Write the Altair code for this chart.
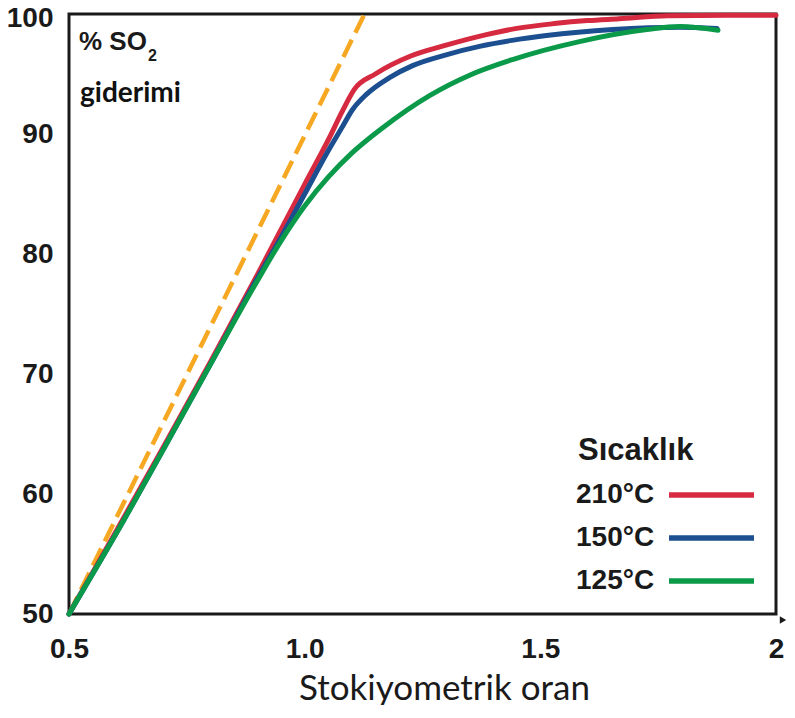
import altair as alt
import pandas as pd

# ---- data ----
red_x = [0.5, 0.6, 0.7, 0.8, 0.9, 1.0, 1.05, 1.08, 1.105, 1.15, 1.225, 1.3, 1.388, 1.45, 1.53, 1.6, 1.667, 1.77, 1.9, 2.0]
red_y = [50, 56.9, 63.9, 71.0, 78.3, 85.8, 89.5, 91.9, 93.7, 95.0, 96.5, 97.4, 98.3, 98.8, 99.2, 99.45, 99.6, 99.85, 99.9, 99.9]

blue_x = [0.5, 0.6, 0.7, 0.8, 0.9, 0.95, 1.0, 1.05, 1.08, 1.101, 1.131, 1.18, 1.229, 1.3, 1.371, 1.44, 1.513, 1.654, 1.796, 1.875]
blue_y = [50, 56.7, 63.7, 70.8, 78.0, 81.4, 85.0, 88.6, 90.6, 92.0, 93.3, 94.7, 95.7, 96.6, 97.3, 97.8, 98.2, 98.7, 98.9, 98.8]

green_x = [0.5, 0.6, 0.7, 0.8, 0.9, 0.95, 1.0, 1.05, 1.1, 1.165, 1.265, 1.35, 1.441, 1.583, 1.726, 1.796, 1.877]
green_y = [50, 56.7, 63.7, 70.8, 77.8, 81.1, 84.0, 86.4, 88.4, 90.5, 93.2, 94.9, 96.2, 97.7, 98.7, 98.95, 98.65]

stoich_x = [0.5, 1.127]
stoich_y = [50, 100]

series_names = ["210°C", "150°C", "125°C"]
series_colors = ["#d62a40", "#1c4f8f", "#0b9a4a"]
dash_color = "#f7a823"

x_ticks = [0.5, 1.0, 1.5, 2.0]
y_ticks = [50, 60, 70, 80, 90, 100]

# ---- tables ----
rows = []
for name, xs, ys in zip(series_names, [red_x, blue_x, green_x], [red_y, blue_y, green_y]):
    for i, (a, b) in enumerate(zip(xs, ys)):
        rows.append({"series": name, "x": a, "y": b, "i": i})
df = pd.DataFrame(rows)
df_dash = pd.DataFrame({"x": stoich_x, "y": stoich_y})

W, H = 707, 600
TICK_FONT = "Liberation Sans"
CAL = "Lato"

xscale = alt.Scale(domain=[0.5, 2.0], nice=False, zero=False)
yscale = alt.Scale(domain=[50, 100], nice=False, zero=False)

xaxis = alt.Axis(
    values=x_ticks, labelExpr="datum.value == 2 ? '2' : format(datum.value, '.1f')",
    grid=False, ticks=False, tickSize=0, domain=False,
    labelFont=TICK_FONT, labelFontWeight="bold", labelFontSize=28, labelColor="#1a1a1a",
    labelBaseline="alphabetic", labelPadding=43, labelFlush=False,
    title="Stokiyometrik oran", titleFont=CAL, titleFontWeight="normal", titleFontSize=35,
    titleColor="#1a1a1a", titleBaseline="alphabetic", titleX=375, titleY=85, titleAlign="center",
)
yaxis = alt.Axis(
    values=y_ticks, grid=False, ticks=False, tickSize=0, domain=False,
    labelFont=TICK_FONT, labelFontWeight="bold", labelFontSize=28, labelColor="#1a1a1a",
    labelBaseline="middle", labelPadding=16, labelFlush=False, title=None,
    labelOffset={"condition": {"test": "datum.value == 100", "value": 4}, "value": 0},
)

color_scale = alt.Scale(domain=series_names, range=series_colors)

curves = alt.Chart(df).mark_line(strokeWidth=5, interpolate="monotone", strokeCap="round").encode(
    x=alt.X("x:Q", scale=xscale, axis=xaxis),
    y=alt.Y("y:Q", scale=yscale, axis=yaxis),
    color=alt.Color("series:N", scale=color_scale, legend=None),
    order="i:Q",
    detail="series:N",
)

dashed = alt.Chart(df_dash).mark_line(strokeWidth=4.5, color=dash_color, strokeDash=[19, 8]).encode(
    x=alt.X("x:Q", scale=xscale),
    y=alt.Y("y:Q", scale=yscale),
)

# axis arrow on the right of the x axis
arrow = alt.Chart(pd.DataFrame({"a": [0]})).mark_point(
    shape="triangle-right", filled=True, color="#1a1a1a", size=55, opacity=1
).encode(x=alt.value(W + 7), y=alt.value(H + 6))

# y-axis label inside plot
so_text = alt.Chart(pd.DataFrame({"t": ["% SO"]})).mark_text(
    font=TICK_FONT, fontWeight="bold", fontSize=26, align="left",
    baseline="alphabetic", color="#1a1a1a"
).encode(text="t:N", x=alt.value(10), y=alt.value(36))
sub_text = alt.Chart(pd.DataFrame({"t": ["2"]})).mark_text(
    font=TICK_FONT, fontWeight="bold", fontSize=16, align="left",
    baseline="alphabetic", color="#1a1a1a"
).encode(text="t:N", x=alt.value(79), y=alt.value(47))
gid_text = alt.Chart(pd.DataFrame({"t": ["giderimi"]})).mark_text(
    font=CAL, fontWeight="bold", fontSize=28, align="left",
    baseline="alphabetic", color="#111111"
).encode(text="t:N", x=alt.value(11), y=alt.value(88))

# custom legend (labels left of the line symbols)
leg_title = alt.Chart(pd.DataFrame({"t": ["Sıcaklık"]})).mark_text(
    font=TICK_FONT, fontWeight="bold", fontSize=31, align="left",
    baseline="alphabetic", color="#1a1a1a"
).encode(text="t:N", x=alt.value(509), y=alt.value(446))

legend_layers = []
leg_y = [481, 524, 567]
for name, col, ly in zip(series_names, series_colors, leg_y):
    legend_layers.append(
        alt.Chart(pd.DataFrame({"t": [name]})).mark_text(
            font=TICK_FONT, fontWeight="bold", fontSize=28, align="left",
            baseline="middle", color="#1a1a1a"
        ).encode(text="t:N", x=alt.value(507), y=alt.value(ly))
    )
    legend_layers.append(
        alt.Chart(pd.DataFrame({"t": [name]})).mark_rule(strokeWidth=5.5, color=col).encode(
            x=alt.value(600), x2=alt.value(685), y=alt.value(ly)
        )
    )

chart = alt.layer(
    dashed, curves, arrow, so_text, sub_text, gid_text, leg_title, *legend_layers
).properties(
    width=W, height=H,
    autosize=alt.AutoSizeParams(type="none"),
    padding={"left": 61, "top": 6, "right": 11, "bottom": 91},
    background="white",
).configure_view(
    stroke="#1a1a1a", strokeWidth=3
)

chart.save("out.html", embed_options={"renderer": "svg", "actions": False})
